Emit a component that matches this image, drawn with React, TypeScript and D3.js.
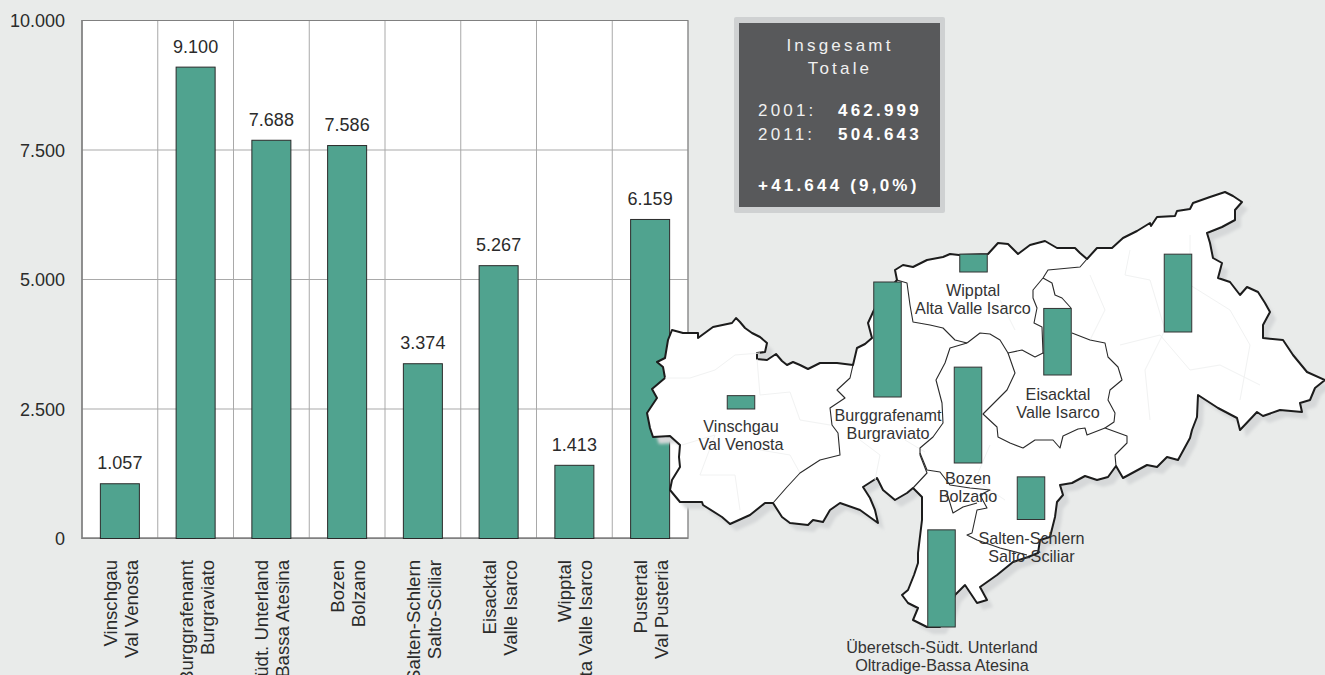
import React from "react";
import * as d3 from "d3";

// ---- values ----
const categories = [
  ["Vinschgau", "Val Venosta"],
  ["Burggrafenamt", "Burgraviato"],
  ["Überetsch-Südt. Unterland", "Oltradige-Bassa Atesina"],
  ["Bozen", "Bolzano"],
  ["Salten-Schlern", "Salto-Sciliar"],
  ["Eisacktal", "Valle Isarco"],
  ["Wipptal", "Alta Valle Isarco"],
  ["Pustertal", "Val Pusteria"],
];
const values = [1057, 9100, 7688, 7586, 3374, 5267, 1413, 6159];
const valueLabels = ["1.057", "9.100", "7.688", "7.586", "3.374", "5.267", "1.413", "6.159"];
const yTicks = [0, 2500, 5000, 7500, 10000];
const yTickLabels = ["0", "2.500", "5.000", "7.500", "10.000"];

// map: base position of each district's mini-bar (geographic anchor, map pixels)
const mapBarX = [741, 887.5, 941.5, 968, 1031, 1057.5, 973.5, 1178];
const mapBarBase = [409, 397, 627, 463, 519.5, 375, 272, 332];
const mapLabelLines = [
  ["Vinschgau", "Val Venosta"],
  ["Burggrafenamt", "Burgraviato"],
  ["Überetsch-Südt. Unterland", "Oltradige-Bassa Atesina"],
  ["Bozen", "Bolzano"],
  ["Salten-Schlern", "Salto-Sciliar"],
  ["Eisacktal", "Valle Isarco"],
  ["Wipptal", "Alta Valle Isarco"],
];
const mapLabelPos = [
  [741, 432], [888, 421], [942, 653], [968, 484], [1031.5, 544], [1058, 400], [973, 296],
];

type P = [number, number];
const outline: P[] = [
  [672,330],[683,333],[698,333],[698,338],[713,327],[732,323],[736,318],[740,322],[745,328],[752,333],[760,337],[767,343],[765,352],[757,353],[757,359],[767,360],[776,354],[782,361],[787,365],[793,362],[800,365],[808,369],[820,363],[837,363],[853,365],
  [857,348],[865,344],[872,338],[868,323],[874,310],[880,300],[897,280],[895,270],[903,265],[913,267],[927,260],[943,257],[950,254],[959,255],[988,254],[998,243],[1008,244],[1018,254],[1030,245],[1045,241],[1057,248],[1075,248],[1080,253],[1087,259],[1097,248],[1112,248],[1123,238],[1137,231],[1150,223],[1151,226],[1157,217],[1175,216],[1177,211],[1190,209],[1193,203],[1210,197],[1225,192],[1233,196],[1242,202],[1235,210],[1235,220],[1222,227],[1207,233],[1210,243],[1213,258],[1222,263],[1218,278],[1230,282],[1240,295],[1247,287],[1258,292],[1265,303],[1270,312],[1263,325],[1263,338],[1283,340],[1293,355],[1307,372],[1325,380],
  [1315,388],[1310,400],[1300,403],[1302,412],[1280,410],[1263,416],[1257,412],[1240,430],[1237,418],[1218,408],[1198,395],[1197,417],[1192,430],[1190,438],[1178,460],[1167,457],[1157,467],[1147,465],[1123,478],[1116,466],[1108,477],[1097,480],[1085,476],[1072,483],[1060,485],[1063,495],[1057,502],[1055,517],[1050,537],[1040,540],[1038,553],[1028,557],[1013,562],[997,575],[980,587],[987,600],[977,603],[965,585],[955,595],[950,610],[940,627],[927,627],[913,620],[918,608],[908,603],[902,595],[908,590],[914,575],[918,563],[918,553],[922,520],[922,497],[913,488],[907,493],[895,500],[883,490],[877,478],[863,487],[870,498],[875,510],[878,523],[860,510],[840,503],[830,510],[823,522],[813,520],[808,525],[790,523],[782,517],[773,503],[765,503],[750,515],[730,524],[722,517],[703,505],[702,502],[680,502],[670,490],[672,480],[680,467],[679,457],[680,445],[670,436],[653,437],[650,428],[647,413],[657,398],[652,389],[665,378],[663,367],[657,362],[665,358],[668,340],
];
const districtBorders: P[][] = [
  [[853,365],[850,378],[837,390],[845,398],[830,408],[832,425],[838,433],[840,455],[820,460],[800,473],[787,487],[773,503]],
  [[897,280],[907,283],[910,305],[913,322],[930,325],[943,328],[955,340],[967,343]],
  [[967,343],[950,348],[945,363],[936,380],[942,403],[943,423],[933,437],[920,448],[920,455],[927,473],[913,488]],
  [[920,453],[927,470],[940,472],[950,485],[970,488],[990,490],[980,495],[987,508],[977,510],[972,533],[967,535],[977,540],[1000,548],[1027,555]],
  [[947,493],[953,513],[963,507],[977,503]],
  [[967,343],[980,333],[990,334],[1000,340],[1008,353],[1022,350],[1035,357],[1043,353],[1048,355]],
  [[1072,333],[1090,340],[1105,343],[1108,357],[1118,367],[1122,380],[1110,390],[1108,400],[1115,413],[1114,422],[1105,428],[1127,436],[1127,443],[1115,455],[1116,466]],
  [[1105,428],[1087,435],[1085,428],[1078,429],[1063,436],[1060,448],[1053,440],[1035,440],[1023,448],[1010,443],[998,437],[997,427],[983,414],[1007,390],[1015,373],[1008,353]],
  [[1087,259],[1080,267],[1048,270],[1043,278],[1033,290],[1033,298],[1037,308],[1034,323],[1042,327],[1043,353]],
  [[1043,278],[1052,283],[1055,295],[1062,298],[1071,308]],
];
const communeBorders: P[][] = [
  [[665,378],[690,378],[715,370],[735,355],[760,353]],
  [[757,359],[760,395],[790,392],[800,420],[830,425]],
  [[682,445],[715,435],[700,475],[735,475],[740,510]],
  [[760,450],[790,455],[800,473]],
  [[1130,250],[1125,275],[1150,280],[1165,330],[1145,370],[1150,420]],
  [[1090,275],[1105,310],[1090,340]],
  [[1190,235],[1190,285],[1230,310],[1250,345],[1240,400]],
  [[1120,345],[1160,335],[1190,370],[1220,365],[1260,385]],
  [[860,440],[880,455],[875,480]],
  [[905,440],[925,452]],
  [[1000,300],[1015,330]],
  [[990,445],[975,480],[1005,500]],
];

const W = 1325;
const H = 675;
const x = d3.scaleBand<number>().domain(values.map((_, i) => i)).range([82, 688]).paddingInner(0.485).paddingOuter(0.2425);
const y = d3.scaleLinear().domain([0, 10000]).range([538.5, 20.5]);
const mapH = d3.scaleLinear().domain([0, 9100]).range([0, 115]);
const line = d3.line<P>();
const sans = "'Liberation Sans', Arial, sans-serif";
const step = x.step();

export default function App() {
  return (
    <svg width={W} height={H} viewBox={`0 0 ${W} ${H}`} style={{ position: "absolute", left: 0, top: 0, display: "block", background: "#e9ebea" }} fontFamily={sans}>
      <defs>
        <filter id="sh" x="-5%" y="-5%" width="110%" height="110%"><feGaussianBlur stdDeviation="1.8" /></filter>
      </defs>
      <rect x={82} y={20.5} width={606} height={518} fill="#fff" />
      {yTicks.slice(1).map((t) => (
        <line key={t} x1={82} x2={688} y1={y(t)} y2={y(t)} stroke="#a9a9a9" strokeWidth={1} />
      ))}
      {values.map((_, i) => (
        <line key={i} x1={82 + step * (i + 1)} x2={82 + step * (i + 1)} y1={20.5} y2={538.5} stroke="#a9a9a9" strokeWidth={1} />
      ))}
      <rect x={82} y={20.5} width={606} height={518} fill="none" stroke="#808080" strokeWidth={1} />
      <line x1={82} x2={82} y1={20} y2={539} stroke="#808080" strokeWidth={1.5} />
      <line x1={82} x2={688} y1={538} y2={538} stroke="#808080" strokeWidth={1.5} />
      {yTicks.map((t, i) => (
        <text key={t} x={65} y={y(t) + 6.5} textAnchor="end" fontSize={18} fill="#2b2b2b">{yTickLabels[i]}</text>
      ))}
      {values.map((v, i) => (
        <g key={i}>
          <rect x={x(i)!} y={y(v)} width={x.bandwidth()} height={y(0) - y(v)} fill="#50a38f" stroke="#2a2a2a" strokeWidth={1} />
          <text x={x(i)! + x.bandwidth() / 2} y={y(v) - 14.5} textAnchor="middle" fontSize={18} fill="#2b2b2b">{valueLabels[i]}</text>
          {categories[i].map((t, j) => (
            <text key={j} transform={`translate(${x(i)! + x.bandwidth() / 2 - 3 + j * 21},560) rotate(-90)`} textAnchor="end" fontSize={18.6} fill="#2b2b2b">{t}</text>
          ))}
        </g>
      ))}

      <rect x={734} y={17} width={211} height={196} rx={2} fill="#cfd1d2" />
      <rect x={739} y={23} width={201} height={184} fill="#58595b" />
      <g fill="#f0f0f0" fontSize={17} letterSpacing={3.2}>
        <text x={840} y={51} textAnchor="middle">Insgesamt</text>
        <text x={840} y={74} textAnchor="middle">Totale</text>
        <text x={758} y={116}>2001:</text>
        <text x={758} y={140}>2011:</text>
        <text x={838} y={116} fontWeight="bold" fill="#fff">462.999</text>
        <text x={838} y={140} fontWeight="bold" fill="#fff">504.643</text>
        <text x={758} y={191} fontWeight="bold" fill="#fff">+41.644 (9,0%)</text>
      </g>

      <path d={line(outline) + "Z"} transform="translate(6,7)" fill="#d6d8d9" filter="url(#sh)" />
      <path d={line(outline) + "Z"} fill="#fff" stroke="#1c1c1c" strokeWidth={2} strokeLinejoin="round" />
      {communeBorders.map((b, i) => (
        <path key={i} d={line(b)!} fill="none" stroke="#f1f2f2" strokeWidth={1} />
      ))}
      {districtBorders.map((b, i) => (
        <path key={i} d={line(b)!} fill="none" stroke="#2a2a2a" strokeWidth={1.1} strokeLinejoin="round" />
      ))}
      {values.map((v, i) => (
        <rect key={i} x={mapBarX[i] - 13.75} y={mapBarBase[i] - mapH(v)} width={27.5} height={mapH(v)} fill="#50a38f" stroke="#333" strokeWidth={1} />
      ))}
      {mapLabelLines.map((lines, i) => (
        <g key={i}>
          {lines.map((t, j) => (
            <text key={j} x={mapLabelPos[i][0]} y={mapLabelPos[i][1] + j * 17.7} textAnchor="middle" fontSize={16.2} fill="#333">{t}</text>
          ))}
        </g>
      ))}
    </svg>
  );
}
